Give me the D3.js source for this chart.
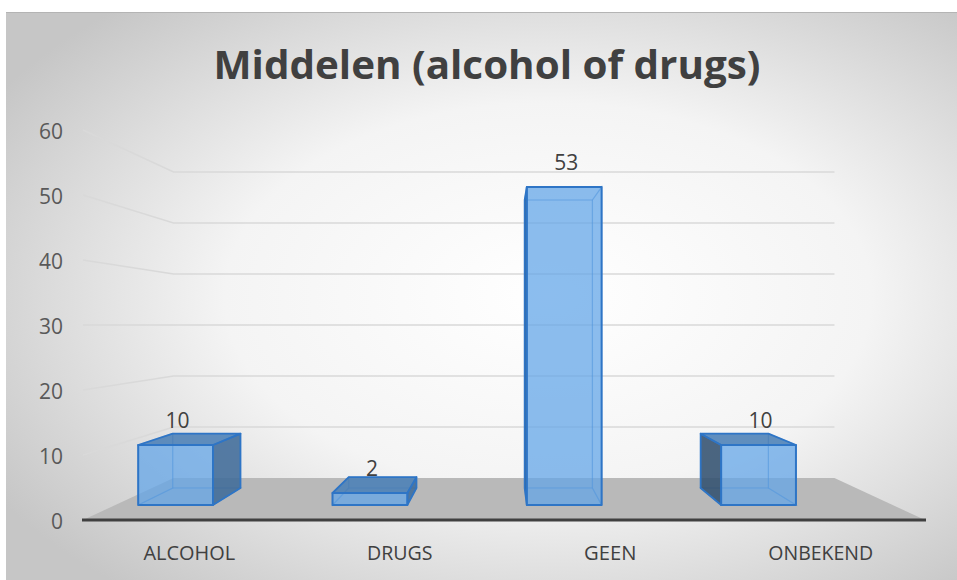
<!DOCTYPE html>
<html><head><meta charset="utf-8">
<script src="https://cdn.jsdelivr.net/npm/d3@7"></script>
<style>html,body{margin:0;padding:0;background:#fff;}svg{display:block;}</style>
</head><body>
<script>
const categories = ["ALCOHOL", "DRUGS", "GEEN", "ONBEKEND"];
const values = [10, 2, 53, 10];
const yTicks = [0, 10, 20, 30, 40, 50, 60];
const title = "Middelen (alcohol of drugs)";

const W = 957, H = 580;
const svg = d3.select("body").append("svg").attr("width", W).attr("height", H);
const defs = svg.append("defs");
const rg = defs.append("radialGradient").attr("id", "bg")
  .attr("cx", 0.57).attr("cy", 0.5).attr("r", 0.68);
rg.append("stop").attr("offset", 0).attr("stop-color", "#ffffff");
rg.append("stop").attr("offset", 0.5).attr("stop-color", "#f4f4f4");
rg.append("stop").attr("offset", 1).attr("stop-color", "#c6c6c6");

svg.append("rect").attr("x", 6).attr("y", 12).attr("width", W - 6).attr("height", H - 12)
  .attr("fill", "url(#bg)");
svg.append("line").attr("x1", 6).attr("x2", W).attr("y1", 12.5).attr("y2", 12.5)
  .attr("stroke", "#b4b4b4").attr("stroke-width", 1);

// perspective
const vx = 504, vy = 325, k = 0.274;
const proj = (X, Y, Z) => { const s = 1 / (1 + k * Z); return [vx + (X - vx) * s, vy + (Y - vy) * s]; };

const y = d3.scaleLinear().domain([0, 60]).range([520, 130]);
const x = d3.scaleBand().domain(categories).range([83, 925]);
const xBar = d3.scaleBand().domain(categories).range([43, 885]).paddingInner(0.615).paddingOuter(0.3075);
const zFront = 0.304, zBack = 0.716;
const line = d3.line();

// floor
const fl = [proj(83, y(0), 0), proj(83, y(0), 1), proj(925, y(0), 1), proj(925, y(0), 0)];
svg.append("path").attr("d", line(fl) + "Z").attr("fill", "#b9b9b9");

// gridlines
yTicks.filter(t => t > 0).forEach(t => {
  const pts = [proj(83, y(t), 0), proj(83, y(t), 1), proj(925, y(t), 1)];
  svg.append("path").attr("d", line(pts)).attr("fill", "none")
    .attr("stroke", "#d9d9d9").attr("stroke-width", 1.5);
});

// axis line
svg.append("line").attr("x1", 82).attr("x2", 926).attr("y1", y(0)).attr("y2", y(0))
  .attr("stroke", "#404040").attr("stroke-width", 3);

// y labels
svg.selectAll("text.yl").data(yTicks).join("text")
  .attr("x", 63).attr("y", d => y(d) + 8.5).attr("text-anchor", "end")
  .attr("font-family", "Open Sans, sans-serif").attr("font-size", 21).attr("fill", "#595959")
  .text(d => d);

// bars
const blue = "#2e75c6";
categories.forEach((c, i) => {
  const v = values[i];
  const X0 = xBar(c), X1 = xBar(c) + xBar.bandwidth();
  const Yb = y(0), Yt = y(v);
  const P = (X, Y, Z) => proj(X, Y, Z);
  const face = (pts) => line(pts) + "Z";
  const back = [P(X0, Yb, zBack), P(X1, Yb, zBack), P(X1, Yt, zBack), P(X0, Yt, zBack)];
  const front = [P(X0, Yb, zFront), P(X1, Yb, zFront), P(X1, Yt, zFront), P(X0, Yt, zFront)];
  const left = [P(X0, Yb, zFront), P(X0, Yb, zBack), P(X0, Yt, zBack), P(X0, Yt, zFront)];
  const right = [P(X1, Yb, zFront), P(X1, Yb, zBack), P(X1, Yt, zBack), P(X1, Yt, zFront)];
  const top = [P(X0, Yt, zFront), P(X1, Yt, zFront), P(X1, Yt, zBack), P(X0, Yt, zBack)];
  const bottom = [P(X0, Yb, zFront), P(X1, Yb, zFront), P(X1, Yb, zBack), P(X0, Yb, zBack)];
  const g = svg.append("g");
  const hidden = [back, bottom];
  const rightVis = X1 < vx, leftVis = X0 > vx, topVis = Yt > vy;
  if (!rightVis) hidden.push(right);
  if (!leftVis) hidden.push(left);
  if (!topVis) hidden.push(top);
  hidden.forEach(f => g.append("path").attr("d", face(f))
    .attr("fill", "rgb(92,160,228)").attr("fill-opacity", 0.22)
    .attr("stroke", blue).attr("stroke-opacity", 0.35).attr("stroke-width", 1.2));
  if (rightVis) g.append("path").attr("d", face(right)).attr("fill", "#3f6a96").attr("fill-opacity", 0.85)
    .attr("stroke", blue).attr("stroke-width", 1.8).attr("stroke-linejoin", "round");
  if (leftVis) g.append("path").attr("d", face(left)).attr("fill", "#324f6c").attr("fill-opacity", 0.85)
    .attr("stroke", blue).attr("stroke-width", 1.8).attr("stroke-linejoin", "round");
  if (topVis) g.append("path").attr("d", face(top)).attr("fill", "#4b7fb5").attr("fill-opacity", 0.85)
    .attr("stroke", blue).attr("stroke-width", 1.8).attr("stroke-linejoin", "round");
  g.append("path").attr("d", face(front)).attr("fill", "rgb(98,165,232)").attr("fill-opacity", 0.66)
    .attr("stroke", blue).attr("stroke-width", 2).attr("stroke-linejoin", "round");
  const fc = P((X0 + X1) / 2, Yt, zFront);
  svg.append("text").attr("x", fc[0] + 2).attr("y", fc[1] - 17).attr("text-anchor", "middle")
    .attr("font-family", "Open Sans, sans-serif").attr("font-size", 21).attr("fill", "#404040")
    .text(v);
});

// category labels
svg.selectAll("text.xl").data(categories).join("text")
  .attr("x", d => x(d) + x.bandwidth() / 2 + 1).attr("y", 560).attr("text-anchor", "middle")
  .attr("font-family", "Open Sans, sans-serif").attr("font-size", 20).attr("fill", "#404040")
  .attr("textLength", d => d.length * 13.1).attr("lengthAdjust", "spacingAndGlyphs")
  .text(d => d);

// title
svg.append("text").attr("x", 487).attr("y", 79).attr("text-anchor", "middle")
  .attr("font-family", "Open Sans, sans-serif").attr("font-weight", "bold").attr("font-size", 39)
  .attr("fill", "#404040").attr("textLength", 547).attr("lengthAdjust", "spacingAndGlyphs")
  .text(title);
</script>
</body></html>
